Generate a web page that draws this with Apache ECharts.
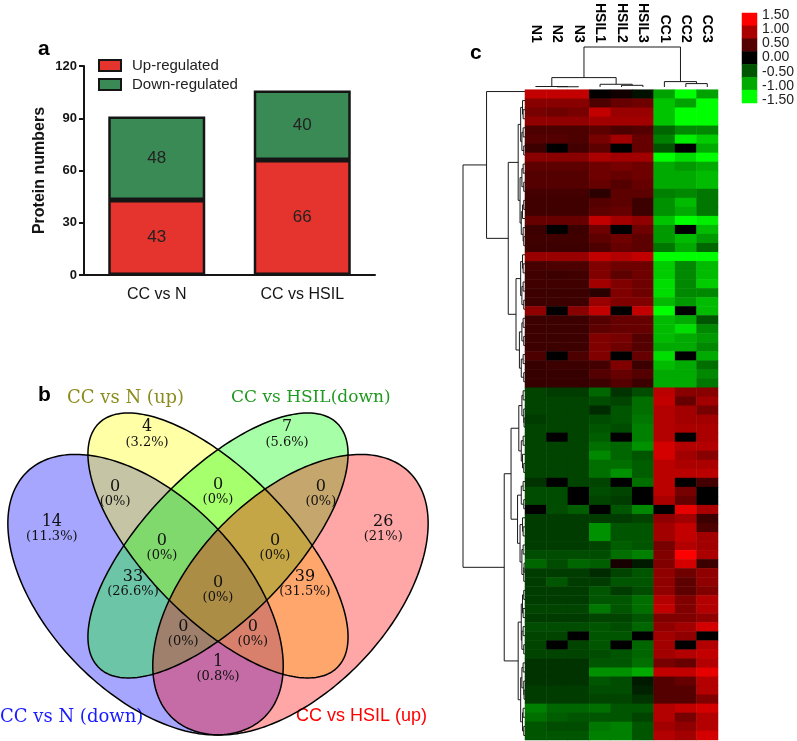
<!DOCTYPE html>
<html><head><meta charset="utf-8">
<script src="https://cdn.jsdelivr.net/npm/echarts@6/dist/echarts.min.js"></script>
<style>html,body{margin:0;padding:0;background:#fff}#c{width:797px;height:741px}</style>
</head><body><div id="c"></div>
<script>
// ================= Panel a data =================
const barCategories = ['CC vs N', 'CC vs HSIL'];
const upRegulated = [43, 66];
const downRegulated = [48, 40];
const barSeriesNames = ['Up-regulated', 'Down-regulated'];

// ================= Panel b data =================
const vennSetNames = ['CC vs N (down)', 'CC vs N (up)', 'CC vs HSIL(down)', 'CC vs HSIL (up)'];
// region membership codes: B = N down, Y = N up, G = HSIL down, R = HSIL up
const vennRegions = ['Y', 'G', 'BY', 'YG', 'GR', 'B', 'BYG', 'YGR', 'R', 'BG', 'BYGR', 'YR', 'BGR', 'BYR', 'BR'];
const vennCounts  = [4, 7, 0, 0, 0, 14, 0, 0, 26, 33, 0, 39, 0, 0, 1];
const vennPercents = ['3.2%', '5.6%', '0%', '0%', '0%', '11.3%', '0%', '0%', '21%', '26.6%', '0%', '31.5%', '0%', '0%', '0.8%'];

// ================= Panel c data =================
const sampleNames = ['N1', 'N2', 'N3', 'HSIL1', 'HSIL2', 'HSIL3', 'CC1', 'CC2', 'CC3'];
const scaleTickLabels = ['1.50', '1.00', '0.50', '0.00', '-0.50', '-1.00', '-1.50'];
const scaleValues = [1.5, 1.0, 0.5, 0.0, -0.5, -1.0, -1.5];
// rows: N1 N2 N3 HSIL1 HSIL2 HSIL3 CC1 CC2 CC3 (row z-scores)
const heatUpper = [
  [1.15,1.15,1.15, 0.02,0.10,-0.10, -0.95,-1.50,-0.95],
  [0.80,0.80,0.80, 0.45,0.60,0.65, -1.15,-0.95,-1.50],
  [0.70,0.65,0.70, 1.15,0.90,0.90, -1.15,-1.50,-1.50],
  [0.85,0.85,0.85, 0.95,0.95,0.95, -1.15,-1.50,-1.50],
  [0.45,0.45,0.45, 0.55,0.45,0.50, -0.60,-0.80,-0.80],
  [0.50,0.50,0.45, 0.70,0.95,0.60, -0.75,-1.40,-1.20],
  [0.35,0.00,0.40, 0.55,0.00,0.60, -0.50,0.00,-1.00],
  [0.80,0.80,0.80, 1.00,0.95,0.95, -1.50,-1.30,-1.50],
  [0.55,0.55,0.55, 0.65,0.70,0.65, -1.00,-0.90,-1.00],
  [0.50,0.50,0.50, 0.65,0.60,0.65, -1.00,-1.00,-1.10],
  [0.50,0.50,0.50, 0.60,0.50,0.60, -1.00,-1.00,-1.10],
  [0.40,0.40,0.40, 0.25,0.55,0.55, -0.75,-0.80,-0.70],
  [0.38,0.38,0.38, 0.50,0.55,0.35, -0.85,-1.10,-0.70],
  [0.38,0.38,0.38, 0.55,0.60,0.35, -0.85,-1.00,-0.70],
  [0.60,0.60,0.60, 1.15,0.95,0.85, -1.15,-1.50,-1.40],
  [0.35,0.00,0.35, 0.65,0.00,0.65, -0.90,0.00,-1.10],
  [0.38,0.38,0.38, 0.55,0.65,0.55, -0.90,-1.10,-0.90],
  [0.35,0.35,0.35, 0.45,0.60,0.55, -0.70,-1.00,-0.60],
  [0.90,0.90,0.90, 1.15,1.05,1.15, -1.50,-1.50,-1.50],
  [0.42,0.45,0.45, 0.75,0.65,0.65, -1.20,-0.80,-1.10],
  [0.38,0.35,0.38, 0.75,0.55,0.65, -1.20,-0.80,-1.10],
  [0.38,0.38,0.38, 0.95,0.75,0.65, -1.30,-0.80,-1.20],
  [0.35,0.35,0.35, 0.25,0.75,0.65, -1.30,-0.80,-0.80],
  [0.35,0.35,0.35, 0.90,0.75,0.75, -1.10,-0.90,-1.10],
  [0.85,0.00,0.80, 1.15,0.00,1.15, -1.50,0.00,-1.10],
  [0.35,0.35,0.35, 0.50,0.60,0.60, -1.10,-1.00,-0.50],
  [0.35,0.35,0.35, 0.55,0.60,0.60, -1.10,-1.30,-0.80],
  [0.35,0.35,0.35, 0.75,0.70,0.50, -1.10,-1.00,-0.90],
  [0.35,0.35,0.35, 0.75,0.65,0.50, -1.00,-1.00,-0.80],
  [0.45,0.00,0.45, 0.75,0.00,0.60, -1.30,0.00,-1.00],
  [0.32,0.35,0.35, 0.40,0.75,0.35, -1.10,-1.00,-0.65],
  [0.32,0.32,0.32, 0.50,0.60,0.50, -1.00,-1.00,-0.80],
  [0.32,0.32,0.32, 0.35,0.50,0.35, -1.00,-1.00,-0.70]
];
const heatLower = [
  [-0.40,-0.35,-0.35, -0.60,-0.30,-0.45, 1.10,0.80,0.80],
  [-0.40,-0.40,-0.40, -0.45,-0.40,-0.65, 1.15,0.60,0.95],
  [-0.40,-0.40,-0.40, -0.25,-0.50,-0.65, 1.05,0.95,0.70],
  [-0.35,-0.40,-0.40, -0.45,-0.50,-0.70, 1.05,0.95,0.95],
  [-0.40,-0.40,-0.40, -0.50,-0.45,-0.75, 1.05,1.00,1.00],
  [-0.40,0.00,-0.40, -0.55,0.00,-0.75, 1.05,0.00,1.00],
  [-0.40,-0.40,-0.40, -0.65,-0.60,-0.85, 1.25,1.05,1.05],
  [-0.40,-0.40,-0.40, -0.80,-0.60,-0.50, 1.25,0.95,0.80],
  [-0.40,-0.40,-0.40, -0.65,-0.65,-0.55, 1.10,1.00,1.00],
  [-0.40,-0.40,-0.40, -0.65,-0.85,-0.55, 1.10,1.10,1.10],
  [-0.30,0.00,-0.40, -0.40,0.00,-0.65, 1.10,0.00,0.40],
  [-0.45,-0.45,0.00, -0.45,-0.40,0.00, 1.10,0.70,0.00],
  [-0.45,-0.45,0.00, -0.40,-0.35,0.00, 1.00,0.60,0.00],
  [0.00,-0.45,-0.55, 0.00,-0.50,-0.80, 0.00,1.35,1.00],
  [-0.35,-0.35,-0.35, -0.35,-0.35,-0.40, 0.85,0.95,0.35],
  [-0.35,-0.35,-0.35, -0.85,-0.50,-0.50, 0.95,1.15,0.45],
  [-0.35,-0.35,-0.35, -0.85,-0.50,-0.50, 0.95,1.15,0.95],
  [-0.35,-0.35,-0.35, -0.40,-0.55,-0.50, 0.70,1.05,0.95],
  [-0.45,-0.45,-0.45, -0.45,-0.65,-0.75, 0.75,1.50,1.00],
  [-0.60,-0.45,-0.60, -0.55,0.15,-0.15, 0.75,1.25,0.35],
  [-0.35,-0.35,-0.35, -0.25,-0.40,-0.50, 0.85,0.65,0.85],
  [-0.35,-0.50,-0.35, -0.35,-0.50,-0.50, 0.85,0.55,0.85],
  [-0.35,-0.35,-0.35, -0.50,-0.35,-0.45, 0.85,0.55,0.75],
  [-0.35,-0.35,-0.35, -0.50,-0.50,-0.65, 1.05,0.75,1.05],
  [-0.40,-0.40,-0.40, -0.70,-0.50,-0.65, 1.15,0.75,1.05],
  [-0.35,-0.35,-0.35, -0.40,-0.40,-0.50, 0.75,0.75,0.85],
  [-0.45,-0.45,-0.45, -0.50,-0.45,-0.60, 0.85,0.95,1.25],
  [-0.40,-0.40,0.00, -0.50,-0.50,0.00, 0.95,0.85,0.00],
  [-0.40,0.00,-0.40, -0.50,0.00,-0.60, 0.95,0.00,1.05],
  [-0.40,-0.40,-0.40, -0.45,-0.50,-0.60, 0.95,1.05,1.15],
  [-0.30,-0.30,-0.30, -0.50,-0.50,-0.65, 0.70,0.60,1.05],
  [-0.30,-0.30,-0.30, -0.85,-0.85,-1.00, 1.15,1.15,1.35],
  [-0.30,-0.30,-0.30, -0.50,-0.45,-0.15, 0.50,0.60,1.05],
  [-0.35,-0.35,-0.35, -0.45,-0.45,-0.20, 0.50,0.50,1.05],
  [-0.35,-0.35,-0.35, -0.40,-0.40,-0.30, 0.50,0.50,0.75],
  [-0.75,-0.60,-0.60, -0.65,-0.50,-0.50, 1.05,1.15,1.25],
  [-0.65,-0.55,-0.50, -0.50,-0.50,-0.40, 1.05,0.70,1.05],
  [-0.50,-0.45,-0.45, -0.70,-0.75,-0.50, 0.95,0.85,1.05],
  [-0.50,-0.50,-0.50, -0.75,-0.75,-0.50, 1.05,0.95,1.25]
];
// dendrograms: [height, left, right]; leaves are row / column indices
const colTree = [1.0, [0.235, [0.012, 0, [0.006, 1, 2]], [0.068, 3, [0.042, 4, 5]]], [0.135, 6, [0.085, 7, 8]]];
const rowTreeA2a = [0.11, [0.07, [0.04, 1, [0.03, 2, 3]], [0.05, [0.03, 4, 5], [0.02, 6, 7]]], [0.08, [0.05, [0.03, 8, 9], [0.02, 10, 11]], [0.06, [0.04, [0.02, 12, 13], 14], [0.03, 15, [0.02, 16, 17]]]]];
const rowTreeA2b = [0.145, [0.07, [0.04, 18, [0.03, 19, 20]], [0.05, [0.03, 21, 22], [0.02, 23, 24]]], [0.09, [0.05, [0.03, 25, 26], [0.02, 27, 28]], [0.06, [0.03, 29, 30], [0.02, 31, 32]]]];
const rowTreeB1 = [0.225, [0.1, [0.05, [0.03, 33, 34], [0.02, 35, [0.015, 36, 37]]], [0.06, [0.03, 38, 39], [0.04, 40, [0.02, 41, 42]]]], [0.12, [0.06, [0.03, 43, 44], [0.02, 45, 46]], [0.08, [0.04, 47, [0.03, 48, 49]], [0.05, [0.03, 50, 51], [0.02, [0.015, 52, 53], 54]]]]];
const rowTreeB2 = [0.11, [0.06, [0.04, [0.02, 55, 56], [0.03, 57, 58]], [0.05, [0.03, 59, 60], [0.02, 61, 62]]], [0.07, [0.05, [0.03, 63, 64], [0.02, 65, [0.015, 66, 67]]], [0.04, [0.03, 68, 69], [0.02, 70, 71]]]];
const rowTree = [1.0, [0.62, 0, [0.27, rowTreeA2a, rowTreeA2b]], [0.335, rowTreeB1, rowTreeB2]];

// ================= Layout (geometry / styles) =================
const SANS = '"Liberation Sans", Arial, sans-serif';
const SERIF = '"DejaVu Serif", "Liberation Serif", serif';
// classic four-ellipse Venn in unit space (y up); rot in degrees
const vennEllipses = [
  {cx: 0.35, cy: 0.47, a: 0.35, b: 0.20, rot: 135, fill: 'rgba(0,0,255,0.35)'},
  {cx: 0.50, cy: 0.57, a: 0.35, b: 0.15, rot: 135, fill: 'rgba(255,255,0,0.35)'},
  {cx: 0.50, cy: 0.57, a: 0.35, b: 0.15, rot: 45,  fill: 'rgba(0,255,0,0.35)'},
  {cx: 0.65, cy: 0.47, a: 0.35, b: 0.20, rot: 45,  fill: 'rgba(255,0,0,0.35)'}
];
// unit-space anchor of each region's "count (percent)" label
const vennLabelPos = {
  Y: [0.353, 0.796], G: [0.643, 0.796], BY: [0.287, 0.675], YG: [0.500, 0.679], GR: [0.713, 0.675],
  B: [0.156, 0.604], BYG: [0.384, 0.565], YGR: [0.618, 0.565], R: [0.842, 0.604],
  BG: [0.324, 0.492], BYGR: [0.500, 0.480], YR: [0.680, 0.492], BGR: [0.428, 0.390], BYR: [0.572, 0.390], BR: [0.500, 0.319]
};
const vennWindow = {x: [0.0487, 0.9596], y: [0.1726, 0.9063]};

// ================= Derived =================
const heatRows = heatUpper.concat(heatLower);
const rowIds = heatRows.map((r, i) => 'p' + (i + 1));
const heatData = [];
heatRows.forEach((row, r) => row.forEach((v, c) => heatData.push([c, r, v])));
const scaleData = scaleValues.map((v, i) => [0, i, v]);

function layoutTree(node, segs) {
  if (typeof node === 'number') return {pos: node, h: 0};
  const L = layoutTree(node[1], segs), R = layoutTree(node[2], segs);
  segs.push([L.pos, L.h, R.pos, R.h, node[0]]);
  return {pos: (L.pos + R.pos) / 2, h: node[0]};
}
const rowSegs = []; layoutTree(rowTree, rowSegs);
const colSegs = []; layoutTree(colTree, colSegs);

function dendroItem(horizontal) {
  return function (params, api) {
    const lp = api.value(0), lh = api.value(1), rp = api.value(2), rh = api.value(3), h = api.value(4);
    const pts = horizontal ? [[lh, lp], [h, lp], [h, rp], [rh, rp]] : [[lp, lh], [lp, h], [rp, h], [rp, rh]];
    return {type: 'polyline', shape: {points: pts.map(p => api.coord(p))},
            style: {stroke: '#1a1a1a', lineWidth: 1, fill: null}};
  };
}
function ellipseShape(api, e) {
  const pts = [], th = e.rot * Math.PI / 180;
  for (let k = 0; k < 240; k++) {
    const t = k / 240 * 2 * Math.PI;
    const u = e.a * Math.cos(t), v = e.b * Math.sin(t);
    pts.push(api.coord([e.cx + u * Math.cos(th) - v * Math.sin(th), e.cy + u * Math.sin(th) + v * Math.cos(th)]));
  }
  return pts;
}
const vennTextData = vennRegions.map((k, i) => [vennLabelPos[k][0], vennLabelPos[k][1], i]);

const chart = echarts.init(document.getElementById('c'), null, {renderer: 'canvas'});
const titleStyle = {fontSize: 21, fontWeight: 'bold', color: '#000', fontFamily: SANS};
chart.setOption({
  backgroundColor: '#fff',
  animation: false,
  textStyle: {fontFamily: SANS},
  title: [
    {text: 'a', left: 33, top: 34, textStyle: titleStyle},
    {text: 'b', left: 33, top: 380, textStyle: titleStyle},
    {text: 'c', left: 465, top: 38, textStyle: titleStyle}
  ],
  legend: {
    data: barSeriesNames, orient: 'vertical', left: 98, top: 58, padding: 0, itemWidth: 22, itemHeight: 11, itemGap: 4,
    icon: 'rect', itemStyle: {borderColor: '#151515', borderWidth: 2},
    textStyle: {fontSize: 15, color: '#222', fontFamily: SANS, padding: [0, 0, 0, 6]}
  },
  visualMap: {type: 'continuous', show: false, min: -1.5, max: 1.5, seriesIndex: [2, 3], dimension: 2,
    inRange: {color: ['#00ff00', '#000000', '#ff0000']}},
  graphic: [
    {type: 'text', left: 0, top: 708, style: {text: vennSetNames[0], fill: '#1a1aff', font: '18px ' + SERIF}},
    {type: 'text', left: 67, top: 389, style: {text: vennSetNames[1], fill: '#8c8c1e', font: '18px ' + SERIF}},
    {type: 'text', left: 231, top: 389, style: {text: vennSetNames[2], fill: '#1f9a1f', font: '17px ' + SERIF}},
    {type: 'text', left: 296, top: 707, style: {text: vennSetNames[3], fill: '#ff0000', font: '18px ' + SANS}}
  ],
  grid: [
    {left: 84, top: 66, width: 291, height: 209},
    {left: 0, top: 380, width: 440, height: 361},
    {left: 525, top: 87, width: 193, height: 653},
    {left: 525, top: 47, width: 193, height: 40},
    {left: 463, top: 87, width: 62, height: 653},
    {left: 742, top: 13, width: 15, height: 90},
    {left: 742, top: 8, width: 15, height: 99}
  ],
  xAxis: [
    {gridIndex: 0, type: 'category', data: barCategories,
      axisLine: {lineStyle: {color: '#151515', width: 2}},
      axisTick: {alignWithLabel: true, length: 6, lineStyle: {width: 2, color: '#151515'}},
      axisLabel: {fontSize: 16, color: '#151515', margin: 12, fontFamily: SANS}},
    {gridIndex: 1, type: 'value', min: vennWindow.x[0], max: vennWindow.x[1], show: false},
    {gridIndex: 2, type: 'category', data: sampleNames, position: 'top',
      axisLine: {show: false}, axisTick: {show: false},
      axisLabel: {rotate: 90, margin: 47, interval: 0, fontSize: 14, fontWeight: 'bold', color: '#000', fontFamily: SANS}},
    {gridIndex: 3, type: 'value', min: -0.5, max: 8.5, show: false},
    {gridIndex: 4, type: 'value', min: 0, max: 1, inverse: true, show: false},
    {gridIndex: 5, type: 'category', data: ['scale'], show: false},
    {gridIndex: 6, type: 'category', data: ['scale'], show: false}
  ],
  yAxis: [
    {gridIndex: 0, type: 'value', min: 0, max: 120, interval: 30, name: 'Protein numbers',
      nameLocation: 'middle', nameGap: 36, nameRotate: 90,
      nameTextStyle: {fontSize: 16, fontWeight: 'bold', color: '#151515', fontFamily: SANS},
      axisLine: {show: true, lineStyle: {color: '#151515', width: 2}},
      axisTick: {show: true, length: 5, lineStyle: {width: 2, color: '#151515'}},
      axisLabel: {fontSize: 13, fontWeight: 'bold', color: '#151515', margin: 7, fontFamily: SANS},
      splitLine: {show: false}},
    {gridIndex: 1, type: 'value', min: vennWindow.y[0], max: vennWindow.y[1], show: false},
    {gridIndex: 2, type: 'category', data: rowIds, inverse: true, show: false},
    {gridIndex: 3, type: 'value', min: 0, max: 1, show: false},
    {gridIndex: 4, type: 'value', min: -0.5, max: 71.5, inverse: true, show: false},
    {gridIndex: 5, type: 'category', data: scaleTickLabels, inverse: true, show: false},
    {gridIndex: 6, type: 'category', data: scaleTickLabels, inverse: true, position: 'right',
      axisLine: {show: false}, axisTick: {show: false}, splitLine: {show: false},
      axisLabel: {interval: 0, fontSize: 14, color: '#222', margin: 6, fontFamily: SANS}}
  ],
  series: [
    {name: barSeriesNames[0], type: 'bar', stack: 'total', xAxisIndex: 0, yAxisIndex: 0, data: upRegulated,
      barWidth: 97, itemStyle: {color: '#e5332d', borderColor: '#151515', borderWidth: 2.5},
      label: {show: true, position: 'inside', fontSize: 17, color: '#222', fontFamily: SANS}},
    {name: barSeriesNames[1], type: 'bar', stack: 'total', xAxisIndex: 0, yAxisIndex: 0, data: downRegulated,
      barWidth: 97, itemStyle: {color: '#3a8a56', borderColor: '#151515', borderWidth: 2.5},
      label: {show: true, position: 'inside', fontSize: 17, color: '#222', fontFamily: SANS}},
    {type: 'heatmap', xAxisIndex: 2, yAxisIndex: 2, data: heatData, itemStyle: {borderWidth: 0}, progressive: 0},
    {type: 'heatmap', xAxisIndex: 5, yAxisIndex: 5, data: scaleData, itemStyle: {borderWidth: 0}},
    {type: 'custom', xAxisIndex: 4, yAxisIndex: 4, data: rowSegs, renderItem: dendroItem(true), clip: false, silent: true},
    {type: 'custom', xAxisIndex: 3, yAxisIndex: 3, data: colSegs, renderItem: dendroItem(false), clip: false, silent: true},
    {type: 'custom', xAxisIndex: 1, yAxisIndex: 1, clip: false, silent: true,
      data: vennEllipses.map((e, i) => [e.cx, e.cy, i]),
      renderItem: function (params, api) {
        const e = vennEllipses[params.dataIndex];
        return {type: 'polygon', shape: {points: ellipseShape(api, e)}, style: {fill: e.fill, stroke: null}};
      }},
    {type: 'custom', xAxisIndex: 1, yAxisIndex: 1, clip: false, silent: true,
      data: vennEllipses.map((e, i) => [e.cx, e.cy, i]),
      renderItem: function (params, api) {
        const e = vennEllipses[params.dataIndex];
        return {type: 'polygon', shape: {points: ellipseShape(api, e)}, style: {fill: null, stroke: '#000', lineWidth: 1.5}};
      }},
    {type: 'custom', xAxisIndex: 1, yAxisIndex: 1, clip: false, silent: true, data: vennTextData,
      renderItem: function (params, api) {
        const p = api.coord([api.value(0), api.value(1)]);
        const i = api.value(2);
        return {type: 'group', children: [
          {type: 'text', x: p[0], y: p[1] - 7, style: {text: String(vennCounts[i]), fill: '#111',
            font: '16px ' + SERIF, align: 'center', verticalAlign: 'middle', textAlign: 'center', textVerticalAlign: 'middle'}},
          {type: 'text', x: p[0], y: p[1] + 8, style: {text: '(' + vennPercents[i] + ')', fill: '#111',
            font: '13px ' + SERIF, align: 'center', verticalAlign: 'middle', textAlign: 'center', textVerticalAlign: 'middle'}}
        ]};
      }}
  ]
});
</script>
</body></html>
